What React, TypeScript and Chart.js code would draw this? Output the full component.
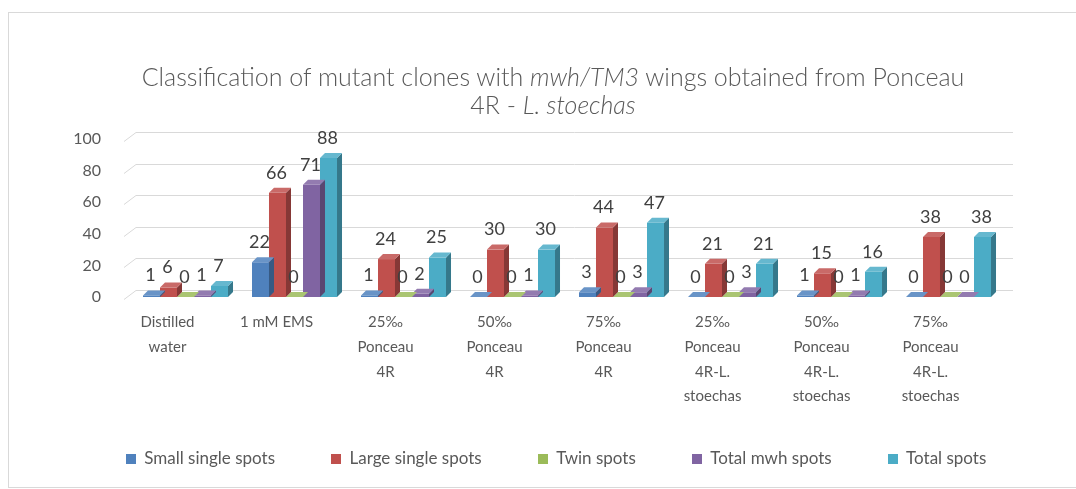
import React, { useEffect, useRef } from "react";
import { Chart, registerables } from "chart.js";

Chart.register(...registerables);

const categories: string[][] = [
  ["Distilled", "water"],
  ["1 mM EMS"],
  ["25‰", "Ponceau", "4R"],
  ["50‰", "Ponceau", "4R"],
  ["75‰", "Ponceau", "4R"],
  ["25‰", "Ponceau", "4R-L.", "stoechas"],
  ["50‰", "Ponceau", "4R-L.", "stoechas"],
  ["75‰", "Ponceau", "4R-L.", "stoechas"],
];
const smallSingleSpots = [1, 22, 1, 0, 3, 0, 1, 0];
const largeSingleSpots = [6, 66, 24, 30, 44, 21, 15, 38];
const twinSpots = [0, 0, 0, 0, 0, 0, 0, 0];
const totalMwhSpots = [1, 71, 2, 1, 3, 3, 1, 0];
const totalSpots = [7, 88, 25, 30, 47, 21, 16, 38];
const seriesNames = ["Small single spots", "Large single spots", "Twin spots", "Total mwh spots", "Total spots"];
const seriesColors = ["#4F81BD", "#C0504D", "#9BBB59", "#8064A2", "#4BACC6"];
const yMin = 0;
const yMax = 100;
const yStep = 20;

const FONT = "Lato, 'Open Sans', sans-serif";
const TEXT = "#595959";

function shade(hex: string, f: number): string {
  const n = parseInt(hex.slice(1), 16);
  let r = (n >> 16) & 255, g = (n >> 8) & 255, b = n & 255;
  if (f < 1) { r *= f; g *= f; b *= f; }
  else { r = r + (255 - r) * (f - 1); g = g + (255 - g) * (f - 1); b = b + (255 - b) * (f - 1); }
  return `rgb(${Math.round(r)},${Math.round(g)},${Math.round(b)})`;
}

const DX = 5;
const DY = 5;

const gridPlugin = {
  id: "grid3d",
  beforeDatasetsDraw(chart: any) {
    const { ctx, chartArea } = chart;
    const y = chart.scales.y;
    ctx.save();
    ctx.strokeStyle = "#d9d9d9";
    ctx.lineWidth = 1;
    y.ticks.forEach((t: any) => {
      const py = Math.round(y.getPixelForValue(t.value)) + 0.5;
      ctx.beginPath();
      ctx.moveTo(chartArea.left - 7, py + 2);
      ctx.lineTo(chartArea.left + 5, py - 7);
      ctx.lineTo(chartArea.right + 10, py - 7);
      ctx.stroke();
    });
    ctx.restore();
  },
};

const bar3dPlugin = {
  id: "bar3d",
  afterDatasetDraw(chart: any, args: any) {
    const ctx = chart.ctx;
    const color = seriesColors[args.index];
    args.meta.data.forEach((el: any) => {
      const { x, y, base, width } = el.getProps(["x", "y", "base", "width"], true);
      const l = x - width / 2;
      const r = x + width / 2;
      ctx.save();
      ctx.fillStyle = shade(color, 0.7);
      ctx.beginPath();
      ctx.moveTo(r, y);
      ctx.lineTo(r + DX, y - DY);
      ctx.lineTo(r + DX, base - DY);
      ctx.lineTo(r, base);
      ctx.closePath();
      ctx.fill();
      ctx.fillStyle = shade(color, 1.15);
      ctx.beginPath();
      ctx.moveTo(l, y);
      ctx.lineTo(l + DX, y - DY);
      ctx.lineTo(r + DX, y - DY);
      ctx.lineTo(r, y);
      ctx.closePath();
      ctx.fill();
      ctx.restore();
    });
  },
};

const labelPlugin = {
  id: "valueLabels",
  afterDatasetsDraw(chart: any) {
    const ctx = chart.ctx;
    ctx.save();
    ctx.font = `18px ${FONT}`;
    ctx.fillStyle = "#404040";
    ctx.textAlign = "center";
    ctx.textBaseline = "middle";
    chart.data.datasets.forEach((ds: any, i: number) => {
      const meta = chart.getDatasetMeta(i);
      meta.data.forEach((el: any, j: number) => {
        const { x, y } = el.getProps(["x", "y"], true);
        ctx.fillText(String(ds.data[j]), x - 1, y - 20);
      });
    });
    ctx.restore();
  },
};

// Legend drawn from the chart's datasets (labels + colours)
const LEGEND_CENTER_X = 547;
const LEGEND_Y = 446;
const LEGEND_GAP = 56;
const LEGEND_BOX = 10;
const LEGEND_FONT = 17;
const legendPlugin = {
  id: "legendRow",
  afterDraw(chart: any) {
    const ctx = chart.ctx;
    ctx.save();
    ctx.font = `${LEGEND_FONT}px ${FONT}`;
    ctx.textBaseline = "middle";
    ctx.textAlign = "left";
    const items = chart.data.datasets.map((ds: any) => ({
      text: ds.label as string,
      color: ds.backgroundColor as string,
      w: LEGEND_BOX + LEGEND_FONT / 2 + ctx.measureText(ds.label).width,
    }));
    const total = items.reduce((s: number, it: any) => s + it.w, 0) + LEGEND_GAP * (items.length - 1);
    let x = LEGEND_CENTER_X - total / 2;
    items.forEach((it: any) => {
      ctx.fillStyle = it.color;
      ctx.fillRect(Math.round(x), LEGEND_Y - LEGEND_BOX / 2, LEGEND_BOX, LEGEND_BOX);
      ctx.fillStyle = TEXT;
      ctx.fillText(it.text, x + LEGEND_BOX + LEGEND_FONT / 2, LEGEND_Y);
      x += it.w + LEGEND_GAP;
    });
    ctx.restore();
  },
};

export default function App() {
  const ref = useRef<HTMLCanvasElement>(null);
  useEffect(() => {
    if (!ref.current) return;
    const data = [smallSingleSpots, largeSingleSpots, twinSpots, totalMwhSpots, totalSpots];
    const chart = new Chart(ref.current, {
      type: "bar",
      data: {
        labels: categories,
        datasets: data.map((d, i) => ({
          label: seriesNames[i],
          data: d,
          backgroundColor: seriesColors[i],
          borderWidth: 0,
          categoryPercentage: 0.78,
          barPercentage: 1.0,
          yAxisID: "y",
        })),
      },
      options: {
        responsive: false,
        animation: false,
        devicePixelRatio: 1,
        layout: { padding: { top: 126, left: 28, right: 0, bottom: 60 } },
        plugins: {
          title: { display: false },
          tooltip: { enabled: false },
          legend: { display: false },
        },
        scales: {
          x: {
            grid: { display: false, drawTicks: false },
            border: { display: false },
            ticks: {
              color: TEXT,
              font: { family: FONT, size: 15, lineHeight: 1.65 },
              maxRotation: 0,
              autoSkip: false,
              padding: 13,
              labelOffset: -18,
            },
            afterFit: (s: any) => { s.height = 130; },
          },
          y: {
            min: yMin,
            max: yMax,
            grid: { display: false, drawTicks: false },
            border: { display: false },
            ticks: {
              stepSize: yStep,
              color: TEXT,
              font: { family: FONT, size: 16 },
              padding: 30,
            },
            afterFit: (s: any) => { s.width = 94; },
          },
          yRightSpace: {
            type: "linear",
            position: "right",
            display: true,
            grid: { display: false, drawTicks: false },
            border: { display: false },
            ticks: { display: false },
            afterFit: (s: any) => { s.width = 73; },
          },
        },
      },
      plugins: [gridPlugin, bar3dPlugin, labelPlugin, legendPlugin],
    });
    return () => chart.destroy();
  }, []);

  return (
    <div style={{ position: "fixed", left: 0, top: 0, width: 1076, height: 489, overflow: "hidden", background: "#fff" }}>
      <div style={{ position: "absolute", left: 8, top: 12, width: 1300, height: 474, border: "1px solid #d9d9d9" }}>
        <canvas ref={ref} width={1067} height={474} style={{ position: "absolute", left: 0, top: 0, width: 1067, height: 474 }} />
      </div>
      <div style={{ position: "absolute", left: 8, top: 62, width: 1090, textAlign: "center", fontFamily: FONT, fontWeight: 300, fontSize: 25, lineHeight: "28px", color: TEXT }}>
        Classification of mutant clones with <i>mwh/TM3</i> wings obtained from Ponceau
        <br />
        4R - <i>L. stoechas</i>
      </div>
    </div>
  );
}
